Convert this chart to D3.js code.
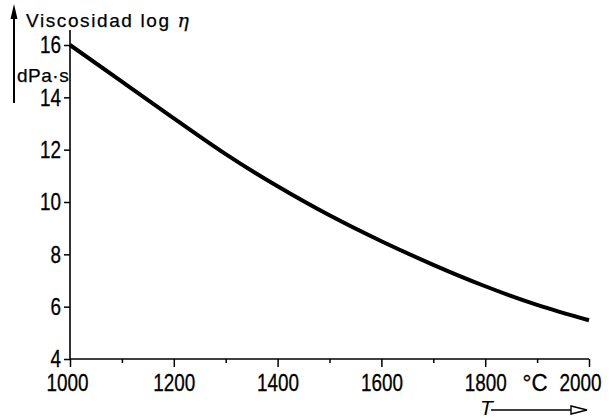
<!DOCTYPE html>
<html>
<head>
<meta charset="utf-8">
<script src="https://cdn.jsdelivr.net/npm/d3@7"></script>
<style>
  body { margin: 0; background: #fff; }
  svg { display: block; }
</style>
</head>
<body>
<div id="chart"></div>
<script>
// values
var temps = [1000, 1100, 1200, 1300, 1400, 1500, 1600, 1700, 1800, 1900, 2000];
var logVisc = [16.0, 14.6, 13.2, 11.83, 10.6, 9.49, 8.5, 7.6, 6.78, 6.07, 5.48];
var majorTicks = [1000, 1200, 1400, 1600, 1800, 2000];
var minorTicks = [1100, 1300, 1500, 1700, 1900];
var yTicks = [4, 6, 8, 10, 12, 14, 16];

var width = 611, height = 418;

var svg = d3.select("#chart").append("svg")
    .attr("width", width).attr("height", height);

var x = d3.scaleLinear().domain([1000, 2000]).range([70, 589]);
var y = d3.scaleLinear().domain([4, 16]).range([359, 45]);

// no narrow font around, so squeeze the digits with textLength
var numFont = "'Liberation Sans', Arial, sans-serif";
var txtFont = "'Liberation Sans', Arial, sans-serif";
var digitW = 10.5;

// x axis, major ticks with labels
var xAxis = svg.append("g")
    .attr("transform", "translate(0," + y(4) + ")")
    .call(d3.axisBottom(x).tickValues(majorTicks).tickSize(8).tickPadding(7)
      .tickFormat(d3.format("d")));
xAxis.select(".domain").attr("d", "M" + x(1000) + ",0H" + x(2000))
    .attr("stroke-width", 1.6);
xAxis.selectAll(".tick line").attr("stroke-width", 1.5);
xAxis.selectAll("text").attr("font-family", numFont).attr("font-size", 24)
    .attr("fill", "#000").attr("stroke", "#000").attr("stroke-width", 0.3)
    .attr("textLength", function(d) { return String(d).length * digitW; })
    .attr("lengthAdjust", "spacingAndGlyphs")
    .attr("dx", function(d) { return d == 2000 ? -9 : (d == 1000 ? -3 : 0); });

// minor ticks
var xMinor = svg.append("g")
    .attr("transform", "translate(0," + y(4) + ")")
    .call(d3.axisBottom(x).tickValues(minorTicks).tickSize(4).tickFormat(""));
xMinor.select(".domain").remove();
xMinor.selectAll(".tick line").attr("stroke-width", 1.5);

// unit label in place of 1900
svg.append("text")
    .attr("x", x(1900) - 2).attr("y", y(4) + 15)
    .attr("dy", "0.71em")
    .attr("text-anchor", "middle")
    .attr("font-family", numFont).attr("font-size", 24)
    .attr("stroke", "#000").attr("stroke-width", 0.3)
    .attr("textLength", 25).attr("lengthAdjust", "spacingAndGlyphs")
    .text("°C");

// y axis
var yAxis = svg.append("g")
    .attr("transform", "translate(" + x(1000) + ",0)")
    .call(d3.axisLeft(y).tickValues(yTicks).tickSize(6).tickPadding(3));
yAxis.select(".domain").attr("d", "M0," + y(4) + "V30")
    .attr("stroke-width", 1.6);
yAxis.selectAll(".tick line").attr("stroke-width", 1.5);
yAxis.selectAll("text").attr("font-family", numFont).attr("font-size", 24)
    .attr("fill", "#000").attr("stroke", "#000").attr("stroke-width", 0.3)
    .attr("textLength", function(d) { return String(d).length * digitW; })
    .attr("lengthAdjust", "spacingAndGlyphs");

// curve
var line = d3.line()
    .x(function(d, i) { return x(temps[i]); })
    .y(function(d) { return y(d); })
    .curve(d3.curveNatural);

svg.append("path")
    .datum(logVisc)
    .attr("d", line)
    .attr("fill", "none")
    .attr("stroke", "#000")
    .attr("stroke-width", 4);

// y title with arrow
svg.append("line")
    .attr("x1", 14).attr("y1", 16).attr("x2", 14).attr("y2", 103)
    .attr("stroke", "#000").attr("stroke-width", 2);
svg.append("path")
    .attr("d", "M14,4L17.5,19L10.5,19Z")
    .attr("fill", "#000");

var title = svg.append("text")
    .attr("x", 26).attr("y", 27)
    .attr("font-family", txtFont).attr("font-size", 19)
    .attr("stroke", "#000").attr("stroke-width", 0.25)
    .attr("letter-spacing", 1.6);
title.append("tspan").text("Viscosidad log ");
title.append("tspan").attr("font-style", "italic").attr("font-family", "'DejaVu Serif', serif")
    .attr("letter-spacing", 0).text("η");

svg.append("text")
    .attr("x", 17).attr("y", 82)
    .attr("font-family", txtFont).attr("font-size", 19)
    .attr("stroke", "#000").attr("stroke-width", 0.25)
    .attr("letter-spacing", 0.5)
    .text("dPa·s");

// T arrow under x axis
svg.append("text")
    .attr("x", 480).attr("y", 415)
    .attr("font-family", txtFont).attr("font-size", 21)
    .attr("font-style", "italic")
    .text("T");
svg.append("line")
    .attr("x1", 491).attr("y1", 410).attr("x2", 574).attr("y2", 410)
    .attr("stroke", "#000").attr("stroke-width", 1.4);
svg.append("path")
    .attr("d", "M587,410L571,406L571,414Z")
    .attr("fill", "#fff").attr("stroke", "#000").attr("stroke-width", 1.4);
</script>
</body>
</html>
